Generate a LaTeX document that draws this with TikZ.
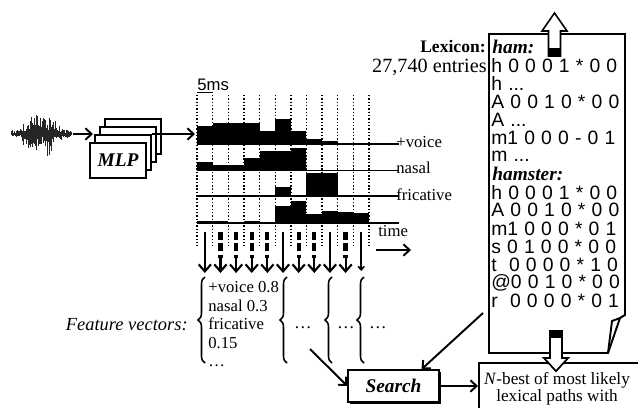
\documentclass[tikz,border=0pt]{standalone}
\usepackage{fontspec}
\setmainfont{Liberation Serif}
\setsansfont{Liberation Sans}
\usepackage{xcolor}
\usepackage{tikz}
\usetikzlibrary{arrows.meta, positioning, calc, shadows, decorations.pathreplacing}

\begin{document}
\begin{tikzpicture}[x=0.02cm, y=-0.02cm,
    mbox/.style={rectangle, draw=black, fill=white, line width=0.9pt, minimum width=1.12cm, minimum height=0.7cm, inner sep=0pt, font=\fontsize{11}{12}\selectfont\bfseries\itshape},
    sbox/.style={rectangle, draw=black, fill=white, line width=0.8pt, minimum width=1.82cm, minimum height=0.64cm, drop shadow={opacity=1, shadow xshift=0.9pt, shadow yshift=-0.9pt, fill=black}, font=\fontsize{11}{12}\selectfont\bfseries\itshape},
    arr/.style={-{Straight Barb[length=3.5pt, width=6.5pt]}, line width=1.1pt},
    grid/.style={dash pattern=on 0.8pt off 1.1pt, line width=0.75pt},
    base/.style={line width=1pt},
    flab/.style={anchor=west, inner sep=0pt, font=\fontsize{9.5}{11}\selectfont},
    lex/.style={anchor=west, inner sep=0pt, font=\sffamily\fontsize{11}{12}\selectfont},
    lexhd/.style={anchor=west, inner sep=0pt, font=\fontsize{11}{12}\selectfont\bfseries\itshape},
    lexframe/.style={draw=black, line width=1.1pt, line join=miter},
    fbrace/.style={decorate, decoration={brace, amplitude=4pt}, line width=0.9pt},
    dshaft/.style={dash pattern=on 4.5pt off 2pt, line width=2.4pt},
    darr/.style={-{Straight Barb[length=4pt, width=7pt]}, line width=1.2pt},
    hollow/.style={draw=black, fill=white, line width=0.9pt, line join=miter}
  ]
  \useasboundingbox (0,0) rectangle (638,407);

  % speech waveform
  \pgfmathsetseed{11}
  \foreach \k in {0,...,150} {
    \pgfmathsetmacro\wx{11+0.4*\k}
    \pgfmathsetmacro\wenv{3+25*exp(-((\wx-41)/17)*((\wx-41)/17))}
    \pgfmathsetmacro\wup{\wenv*(0.12+0.88*rnd*rnd)}
    \pgfmathsetmacro\wdn{\wenv*(0.12+0.88*rnd*rnd)}
    \draw[line width=0.4pt, black!85] (\wx,134-\wup) -- (\wx,134+\wdn);
  }

  % MLP stack
  \foreach \s in {3,2,1}
    \draw[fill=white, line width=0.7pt] (90+5*\s,143-8*\s) rectangle (146+5*\s,178-8*\s);
  \node[mbox] (mlp) at (118,160.5) {MLP};

  \coordinate (wave) at (73,134);
  \coordinate (mlpin) at (93,134);
  \coordinate (mlpout) at (152,134);
  \coordinate (chart) at (195,134);
  \draw[arr] (wave) -- (mlpin);
  \draw[arr] (mlpout) -- (chart);

  % feature tracks
  \foreach \i in {0,...,11}
    \draw[grid] (197+15.64*\i,95) -- (197+15.64*\i,246);
  \node[anchor=base west, inner sep=0pt, font=\sffamily\fontsize{9.5}{11}\selectfont] (scale) at (197,90) {5ms};
  \draw[line width=0.6pt] (197,92.5) -- (212.6,92.5);

  \foreach \c/\t in {0/126, 1/123, 2/123, 3/123, 4/131, 5/119, 6/131, 7/139, 8/141}
    \fill (197+15.64*\c,\t) rectangle (212.64+15.64*\c,145);
  \foreach \c/\t in {0/162, 1/165, 2/165, 3/158, 4/151, 5/151, 6/148}
    \fill (197+15.64*\c,\t) rectangle (212.64+15.64*\c,171);
  \foreach \c/\t in {5/187, 7/173, 8/173}
    \fill (197+15.64*\c,\t) rectangle (212.64+15.64*\c,196.5);
  \foreach \c/\t in {0/221, 1/221, 2/222, 3/221, 5/206, 6/201, 7/214, 8/211, 9/212, 10/213}
    \fill (197+15.64*\c,\t) rectangle (212.64+15.64*\c,223);

  \draw[base] (197,144) -- (399,144);
  \draw[base] (197,170.5) -- (399,170.5);
  \draw[base] (197,196) -- (399,196);
  \draw[base] (197,223) -- (399,223);
  \node[flab] (voice) at (396,142) {+voice};
  \node[flab] (nasal) at (396,168) {nasal};
  \node[flab] (fric) at (396,195) {fricative};

  \node[anchor=base west, inner sep=0pt, font=\fontsize{9.5}{11}\selectfont] (timelbl) at (378,236) {time};
  \coordinate (tstart) at (376,250);
  \coordinate (tend) at (411,250);
  \draw[arr] (tstart) -- (tend);

  % frame arrows down to the feature vectors
  \foreach \i in {0,5,8}
    \draw[darr] (197+15.64*\i+7.82,232) -- (197+15.64*\i+7.82,273);
  \foreach \i in {1,2,3,4,6,7,9} {
    \draw[dshaft] (197+15.64*\i+7.82,232) -- (197+15.64*\i+7.82,258);
    \draw[darr] (197+15.64*\i+7.82,257) -- (197+15.64*\i+7.82,273);
  }
  \draw[line width=0.9pt, -{Straight Barb[length=2pt, width=3.5pt]}] (361.2,232) -- (361.2,271);

  % feature vectors
  \node[anchor=east, inner sep=0pt, font=\fontsize{10.5}{12}\selectfont\itshape] (fvlbl) at (188,325) {Feature vectors:};
  \draw[fbrace] (205,363) -- (205,277);
  \draw[fbrace] (287,363) -- (287,277);
  \draw[fbrace] (332,363) -- (332,277);
  \draw[fbrace] (364,363) -- (364,277);
  \node[anchor=north west, inner sep=0pt, align=left, font=\fontsize{9.5}{10.6}\selectfont] (fv1) at (208,281)
    {+voice 0.8\\nasal 0.3\\fricative\\0.15\\\dots};
  \node[inner sep=0pt, font=\fontsize{10}{12}\selectfont] (fv2) at (303,328) {\dots};
  \node[inner sep=0pt, font=\fontsize{10}{12}\selectfont] (fv3) at (346,328) {\dots};
  \node[inner sep=0pt, font=\fontsize{10}{12}\selectfont] (fv4) at (378,328) {\dots};

  % lexicon
  \node[anchor=east, inner sep=0pt, font=\fontsize{10}{11}\selectfont\bfseries] (lexttl) at (486,47) {Lexicon:};
  \node[anchor=east, inner sep=0pt, font=\fontsize{11.5}{13}\selectfont] (lexcnt) at (487,67) {27,740 entries};
  \draw[lexframe, fill=white] (489,34) -- (625,34) -- (625,315) -- (620,318) -- (608,353) -- (489,353) -- cycle;
  \draw[lexframe] (620,318) -- (612,321) -- (608,353);
  \node[lexhd] (lx1) at (492,47) {ham:};
  \node[lexhd] (lx8) at (492,174) {hamster:};
  \foreach \n/\txt in {2/{h 0 0 0 1 * 0 0}, 3/{h ...}, 4/{A 0 0 1 0 * 0 0}, 5/{A ...},
      6/{m1 0 0 0 - 0 1}, 7/{m ...}, 9/{h 0 0 0 1 * 0 0}, 10/{A 0 0 1 0 * 0 0},
      11/{m1 0 0 0 * 0 1}, 12/{s 0 1 0 0 * 0 0}, 13/{t~~0 0 0 0 * 1 0},
      14/{@0 0 1 0 * 0 0}, 15/{r~~0 0 0 0 * 0 1}}
    \node[lex] (lx\n) at (491,47+18.14*\n-18.14) {\spaceskip=3.5pt\relax\txt};

  % hollow arrows in and out of the lexicon
  \draw[hollow] (548.5,56) -- (548.5,31) -- (542,31) -- (554.5,13) -- (567,31) -- (560.5,31) -- (560.5,56) -- cycle;
  \fill (548.5,48) rectangle (560.5,56);
  \draw[hollow] (550,331) -- (550,358) -- (544,358) -- (556,371) -- (568,358) -- (562,358) -- (562,331) -- cycle;
  \fill (550,331) rectangle (562,338);

  % search and output
  \node[sbox] (search) at (393.5,386) {Search};
  \node[draw=black, line width=0.9pt, anchor=north west, minimum width=3.4cm, minimum height=1.2cm] (nbest) at (478,362) {};
  \node[align=center, inner sep=0pt, font=\fontsize{9.8}{9.8}\selectfont] (nbesttxt) at (557,389)
    {\textit{N}-best of most likely\\lexical paths with};
  \draw[hollow] (550,352) -- (550,358) -- (544,358) -- (556,371) -- (568,358) -- (562,358) -- (562,352);

  \coordinate (lexout) at (483,313);
  \coordinate (fvout) at (310,349);
  \draw[arr] (lexout) -- ([xshift=0.56cm]search.north);
  \draw[arr] (fvout) -- (search.west);
  \draw[arr] (search.east) -- (search.east -| nbest.west);
\end{tikzpicture}
\end{document}
